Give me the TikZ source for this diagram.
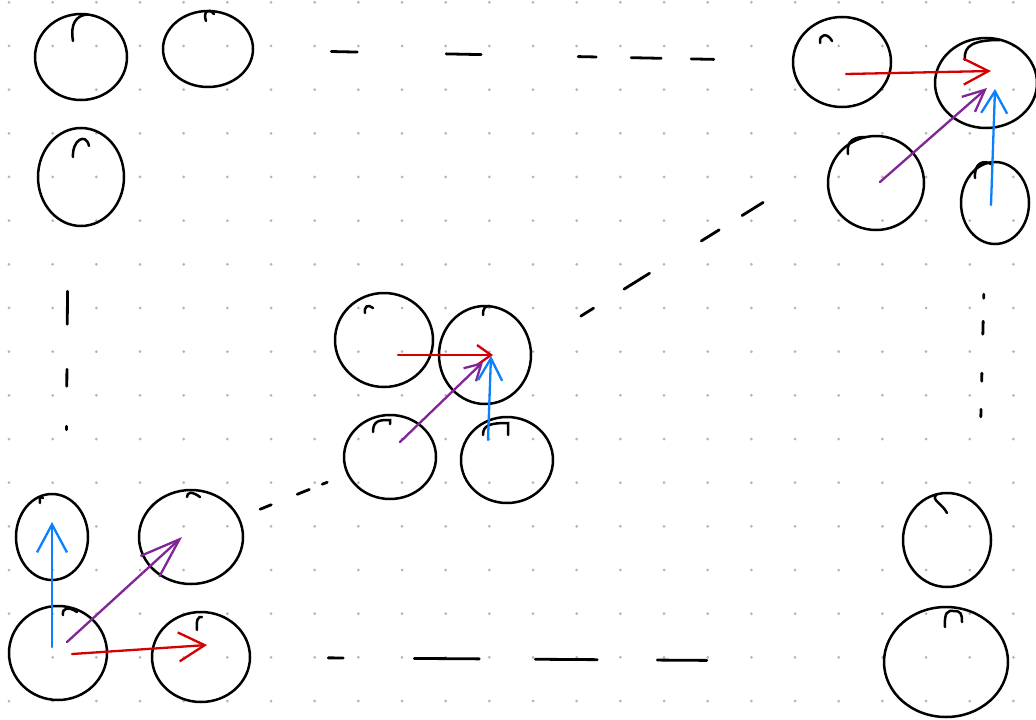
\documentclass[tikz,border=0pt]{standalone}
\usepackage{tikz}
\usetikzlibrary{arrows.meta,shapes.geometric}

\definecolor{inkred}{RGB}{214,0,0}
\definecolor{inkblue}{RGB}{10,128,255}
\definecolor{inkpurple}{RGB}{128,38,150}
\definecolor{dotgray}{RGB}{180,180,180}

\begin{document}
\begin{tikzpicture}[x=1pt,y=-1pt,
  blob/.style={draw=black,line width=2.5pt,ellipse,inner sep=0pt},
  hook/.style={draw=black,line width=2.5pt,line cap=round},
  sketchdash/.style={draw=black,line width=2.8pt,line cap=round},
  redarr/.style={draw=inkred,line width=2.3pt,line cap=round,line join=round},
  bluearr/.style={draw=inkblue,line width=2.3pt,line cap=round,line join=round},
  purplearr/.style={draw=inkpurple,line width=2.3pt,line cap=round,line join=round}]
\fill[white] (0,0) rectangle (1036,720);
\useasboundingbox (0,0) rectangle (1036,720);
% dotted paper
\foreach \i in {0,...,23}
  \foreach \j in {0,...,16}
    \fill[dotgray] ({9+43.67*\i},{2.3+43.67*\j}) circle (1.5pt);

% circles, top left
\node[blob,minimum width=92pt,minimum height=86pt] (A) at (81,57) {};
\node[blob,minimum width=90pt,minimum height=76pt] (B) at (208,49) {};
\node[blob,minimum width=86pt,minimum height=98pt] (C) at (81,177) {};
% top right
\node[blob,minimum width=98pt,minimum height=90pt] (D) at (842,62) {};
\node[blob,minimum width=102pt,minimum height=90pt] (E) at (986,83) {};
\node[blob,minimum width=96pt,minimum height=94pt] (F) at (876,183) {};
\node[blob,minimum width=68pt,minimum height=82pt] (G) at (995,203) {};
% middle
\node[blob,minimum width=98pt,minimum height=94pt] (H) at (384,340) {};
\node[blob,minimum width=92pt,minimum height=98pt] (I) at (485,355) {};
\node[blob,minimum width=92pt,minimum height=84pt] (J) at (390,457) {};
\node[blob,minimum width=92pt,minimum height=86pt] (K) at (507,460) {};
% bottom left
\node[blob,minimum width=72pt,minimum height=86pt] (L) at (52,537) {};
\node[blob,minimum width=104pt,minimum height=94pt] (M) at (191,537) {};
\node[blob,minimum width=98pt,minimum height=94pt] (N) at (58,653) {};
\node[blob,minimum width=98pt,minimum height=90pt] (O) at (201,657) {};
% bottom right
\node[blob,minimum width=88pt,minimum height=94pt] (P) at (947,540) {};
\node[blob,minimum width=124pt,minimum height=110pt] (Q) at (946,662) {};

% pen hooks on top of the circles
\draw[hook] (73,41) .. controls (70,24) and (76,15) .. (88,14.5);
\draw[hook] (206,21) .. controls (203,12) and (208,7) .. (214,14);
\draw[hook] (73,157) .. controls (72,140) and (86,132) .. (89,146);
\draw[hook] (820,43) .. controls (819,33) and (828,33) .. (832,41);
\draw[hook] (965,60) .. controls (963,45) and (975,40) .. (1000,40);
\draw[hook] (848,154) .. controls (846,140) and (855,137) .. (865,137);
\draw[hook] (975,178) .. controls (974,162) and (984,160) .. (991,164);
\draw[hook] (365,313) .. controls (364,306) and (368,304) .. (373,308);
\draw[hook] (483,315) .. controls (483,308) and (485,306) .. (490,306);
\draw[hook] (373,432) .. controls (373,420) and (380,420) .. (390,420) -- (390,424);
\draw[hook] (483,435) .. controls (483,425) and (490,423) .. (508,423) -- (508,435);
\draw[hook] (40,503) .. controls (39,497) and (41,496) .. (43,498);
\draw[hook] (187,497) .. controls (187,492) and (192,491) .. (200,497);
\draw[hook] (63,615) .. controls (62,608) and (68,606) .. (77,612);
\draw[hook] (197,630) .. controls (196,620) and (198,616) .. (202,617);
\draw[hook] (947,513) .. controls (942,503) and (930,500) .. (937,494);
\draw[hook] (945,627) .. controls (944,612) and (948,610) .. (954,611) .. controls (961,611) and (962,614) .. (962,622);

% dashed links between the groups
\draw[sketchdash,shorten <=77pt,shorten >=78pt,
  dash pattern=on 26pt off 89pt on 35pt off 97pt on 18pt off 35pt on 30pt off 30pt on 25pt off 100pt]
  (B) -- (D);
\draw[sketchdash,shorten <=64pt,shorten >=63pt,
  dash pattern=on 33pt off 45pt on 17pt off 40pt on 6pt off 200pt]
  ([xshift=-13pt]C.south) -- ([xshift=14pt]L.north);
\draw[sketchdash,shorten <=22pt,shorten >=21pt,
  dash pattern=on 12pt off 28pt on 13pt off 14pt on 7pt off 100pt]
  (M) -- (J);
\draw[sketchdash,shorten <=58pt,shorten >=83pt,
  dash pattern=on 15pt off 36pt on 30pt off 61pt on 21pt off 27pt on 27pt off 200pt]
  (I.10) -- (F.150);
\draw[sketchdash,shorten <=49pt,shorten >=75pt,
  dash pattern=on 4pt off 23pt on 13pt off 39pt on 8pt off 28pt on 10pt off 100pt]
  ([xshift=-10pt]G.south) -- ([xshift=32pt]P.north);
\draw[sketchdash,shorten <=77pt,shorten >=176pt,
  dash pattern=on 15pt off 71pt on 65pt off 56pt on 62pt off 60pt on 52pt off 200pt]
  (O) -- (Q);

% coloured arrows, bottom left
\draw[bluearr,-{Straight Barb[length=28pt,width=30pt]}] ([xshift=-6pt,yshift=6pt]N.center) -- ([yshift=15pt]L.center);
\draw[purplearr,-{Straight Barb[length=40pt,width=28pt]}] ([xshift=9pt,yshift=11pt]N.center) -- ([xshift=-9pt]M.center);
\draw[redarr,-{Straight Barb[length=26pt,width=29pt]}] ([xshift=14pt,yshift=-1pt]N.center) -- ([xshift=6pt,yshift=12pt]O.center);
% middle
\draw[redarr,-{Straight Barb[length=14pt,width=20pt]}] ([xshift=14pt,yshift=-15pt]H.center) -- ([xshift=8pt]I.center);
\draw[purplearr,-{Straight Barb[length=16pt,width=18pt]}] ([xshift=10pt,yshift=15pt]J.center) -- ([xshift=-2pt,yshift=-7pt]I.center);
\draw[bluearr,-{Straight Barb[length=22pt,width=24pt]}] ([xshift=-19pt,yshift=20pt]K.center) -- ([xshift=6pt,yshift=-1pt]I.center);
% top right
\draw[redarr,-{Straight Barb[length=25pt,width=26pt]}] ([xshift=4pt,yshift=-12pt]D.center) -- ([xshift=5pt,yshift=12pt]E.center);
\draw[purplearr,-{Straight Barb[length=22pt,width=20pt]}] ([xshift=4pt,yshift=1pt]F.center) -- ([xshift=1pt,yshift=-5pt]E.center);
\draw[bluearr,-{Straight Barb[length=22pt,width=26pt]}] ([xshift=-4pt,yshift=-2pt]G.center) -- ([xshift=9pt,yshift=-6pt]E.center);
\end{tikzpicture}
\end{document}
